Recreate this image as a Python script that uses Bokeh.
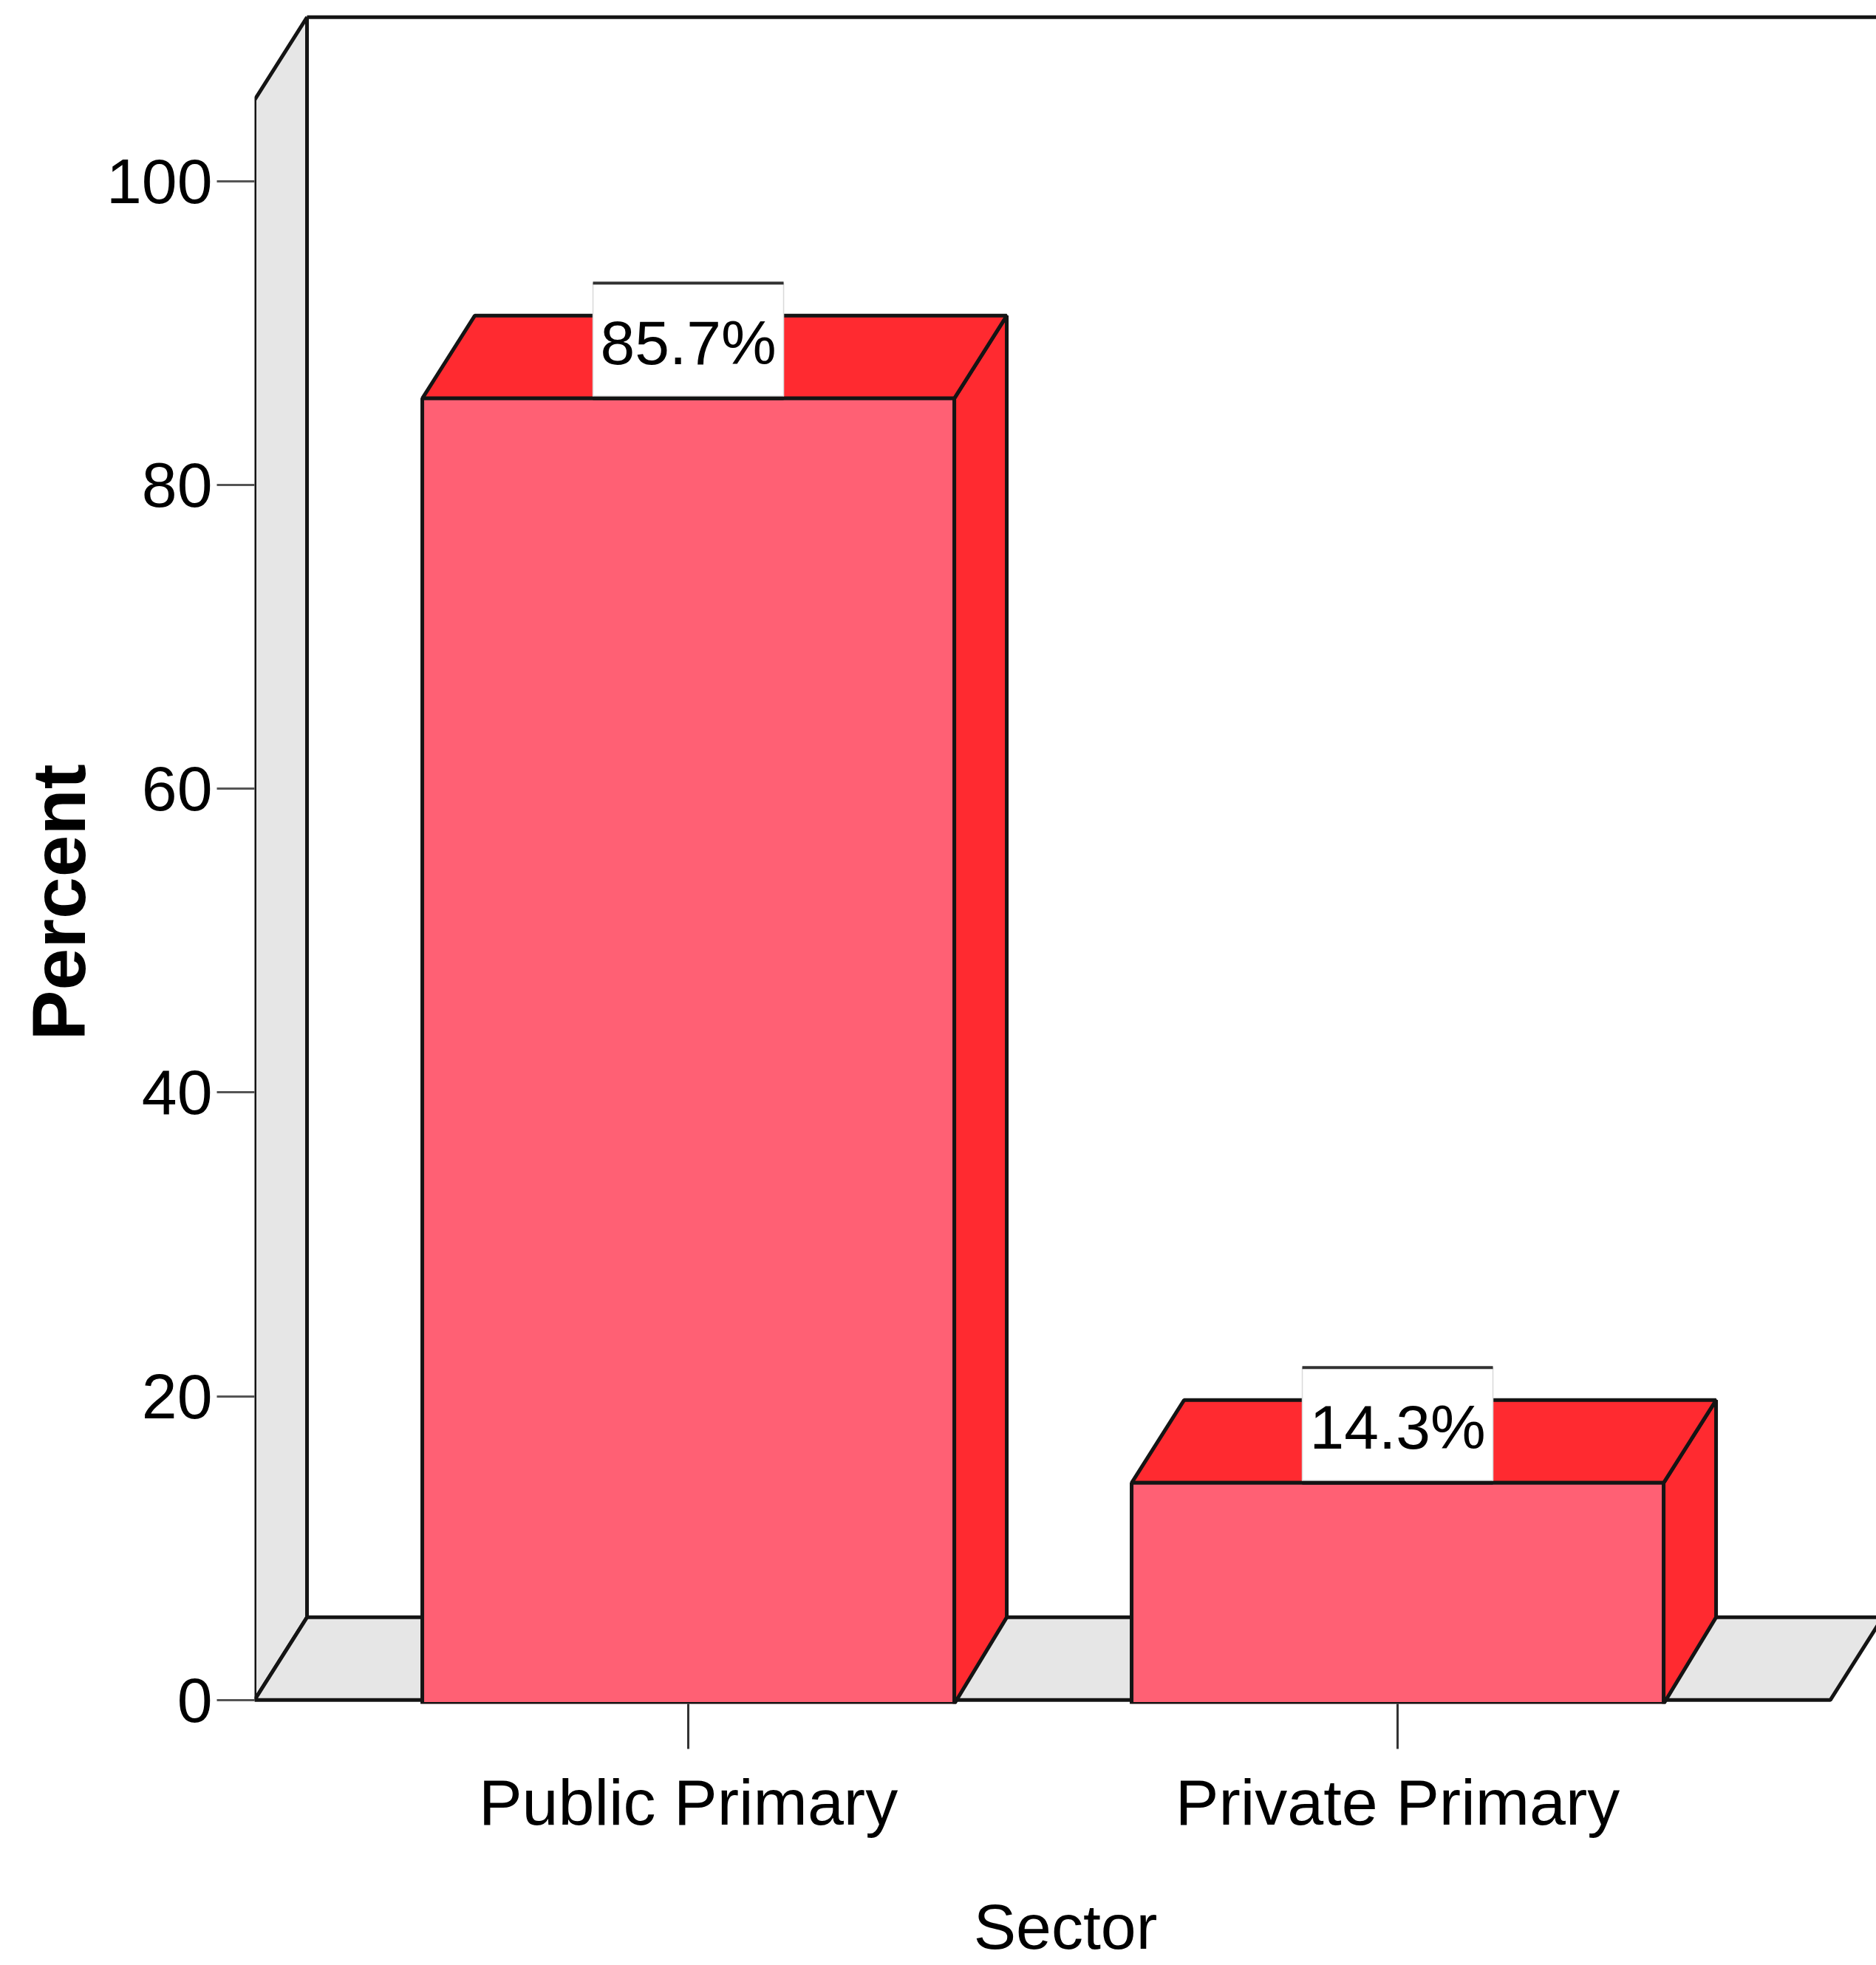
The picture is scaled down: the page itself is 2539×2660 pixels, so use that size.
from bokeh.plotting import figure
from bokeh.models import Range1d, FixedTicker, Title
from bokeh.core.properties import value
from bokeh.embed import file_html
from bokeh.resources import INLINE

categories = ["Public Primary", "Private Primary"]
percents = [85.7, 14.3]
y_ticks = [0, 20, 40, 60, 80, 100]
x_label = "Sector"
y_label = "Percent"

FONT = "Liberation Sans"
FRONT, SIDE, WALL, INK = "#ff6074", "#ff2a30", "#e6e6e6", "#141414"
PX_X, PX_Y = 960.0, 20.56          # pixels per data unit
DX, DY = 71 / PX_X, 112 / PX_Y     # depth of the 3-D effect in data units
X0, X1, Y_TOP = 0.3885, 2.61, 105.35
BAR_W = 0.75
BASE = -0.25
LINE = 5
positions = [i + 1 for i in range(len(categories))]

W, H = 2539, 2660
left, frame_h = 344, 2306
p = figure(width=W, height=H, output_backend="svg", toolbar_location=None,
           x_range=Range1d(X0, X0 + (W - left) / PX_X),
           y_range=Range1d(BASE, BASE + frame_h / PX_Y),
           min_border_left=left, min_border_right=0, min_border_top=0,
           min_border_bottom=H - frame_h)
p.outline_line_color = None
p.background_fill_color = "white"
p.grid.visible = False

# 3-D wall and floor
p.patch([X0, X0, X0 + DX, X0 + DX], [0, Y_TOP, Y_TOP + DY, DY], fill_color=WALL, line_color=INK, line_width=LINE)
p.patch([X0, X1, X1 + DX, X0 + DX], [0, 0, DY, DY], fill_color=WALL, line_color=INK, line_width=LINE)
p.line([X0 + DX, X1 + DX], [Y_TOP + DY, Y_TOP + DY], line_color=INK, line_width=LINE)

# bars
for x, v in zip(positions, percents):
    l, r = x - BAR_W / 2, x + BAR_W / 2
    p.patch([r, r + DX, r + DX, r], [BASE, DY, v + DY, v], fill_color=SIDE, line_color=INK, line_width=LINE)
    p.patch([l, r, r + DX, l + DX], [v, v, v + DY, v + DY], fill_color=SIDE, line_color=INK, line_width=LINE)
    p.quad(left=[l], right=[r], bottom=[BASE], top=[v], fill_color=FRONT, line_color=INK, line_width=LINE)

# value labels in white boxes
LW, LH = 258 / PX_X, 156 / PX_Y
for x, v in zip(positions, percents):
    p.quad(left=[x - LW / 2], right=[x + LW / 2], bottom=[v + 0.15], top=[v + LH], fill_color="white",
           line_color="#d9d9d9", line_width=1.5)
    p.line([x - LW / 2, x + LW / 2], [v, v], line_color=INK, line_width=LINE)
    p.line([x - LW / 2, x + LW / 2], [v + LH, v + LH], line_color="#333333", line_width=4)
    p.text(x=[x], y=[v + 3.65], text=[f"{v:.1f}%"], text_align="center", text_baseline="middle",
           text_font=value(FONT), text_font_size="84px", text_color="black")

# axes
xa = p.xaxis[0]
xa.ticker = FixedTicker(ticks=positions)
xa.major_label_overrides = dict(zip(positions, categories))
xa.axis_line_color = None
xa.major_tick_in = 0
xa.major_tick_out = 61
xa.major_tick_line_color = "#333333"
xa.major_tick_line_width = 3
xa.major_label_standoff = 22
xa.major_label_text_font = FONT
xa.major_label_text_font_size = "88px"
xa.major_label_text_color = "black"
xa.minor_tick_line_color = None
xa.axis_label = x_label
xa.axis_label_standoff = 68
xa.axis_label_text_font = FONT
xa.axis_label_text_font_style = "normal"
xa.axis_label_text_font_size = "86px"
xa.axis_label_text_color = "black"

ya = p.yaxis[0]
ya.ticker = FixedTicker(ticks=y_ticks)
ya.axis_line_color = None
ya.major_tick_in = 0
ya.major_tick_out = 51
ya.major_tick_line_color = "#555555"
ya.major_tick_line_width = 3
ya.major_label_standoff = 6
ya.major_label_text_font = FONT
ya.major_label_text_font_size = "86px"
ya.major_label_text_color = "black"
ya.minor_tick_line_color = None

p.add_layout(Title(text=y_label, align="left", offset=898, standoff=10, text_font=FONT,
                   text_font_style="bold", text_font_size="102px", text_color="black"), "left")

open("out.html", "w").write(file_html(p, INLINE))
